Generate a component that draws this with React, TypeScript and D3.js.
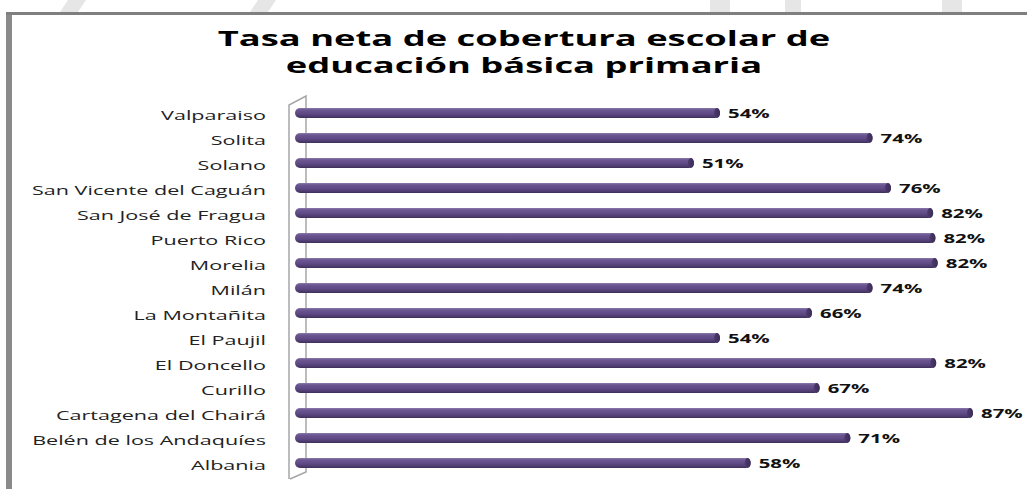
import React from "react";
import * as d3 from "d3";

const municipios = [
  "Valparaiso",
  "Solita",
  "Solano",
  "San Vicente del Caguán",
  "San José de Fragua",
  "Puerto Rico",
  "Morelia",
  "Milán",
  "La Montañita",
  "El Paujil",
  "El Doncello",
  "Curillo",
  "Cartagena del Chairá",
  "Belén de los Andaquíes",
  "Albania",
];

const cobertura = [54, 73.9, 50.6, 76.3, 81.8, 82.1, 82.4, 73.9, 66, 54, 82.2, 67, 87, 71, 58];

const titleLines = ["Tasa neta de cobertura escolar de", "educación básica primaria"];

const width = 1027;
const height = 489;

export default function App() {
  const x = d3.scaleLinear().domain([0, 100]).range([306, 1072.7]);
  const y = d3.scalePoint<string>().domain(municipios).range([113, 463]);
  const barH = 10;
  const depth = 11;
  const fmt = (v: number) => `${Math.round(v)}%`;

  const x0 = x(0);

  return (
    <svg
      width={width}
      height={height}
      viewBox={`0 0 ${width} ${height}`}
      style={{ position: "absolute", left: 0, top: 0, background: "#fff" }}
    >
      <defs>
        <linearGradient id="barGrad" x1="0" y1="0" x2="0" y2="1">
          <stop offset="0" stopColor="#8c7bab" />
          <stop offset="0.2" stopColor="#6b5691" />
          <stop offset="0.55" stopColor="#604a86" />
          <stop offset="0.85" stopColor="#4c3a6c" />
          <stop offset="1" stopColor="#3c2d58" />
        </linearGradient>
        <linearGradient id="capGrad" x1="0" y1="0" x2="1" y2="0">
          <stop offset="0" stopColor="#4c3a6c" />
          <stop offset="1" stopColor="#3b2c57" />
        </linearGradient>
      </defs>

      {/* faint watermark from the page behind */}
      <g fill="#e6e6e6">
        <polygon points="68,0 86,0 78,12 60,12" />
        <polygon points="258,0 276,0 268,12 250,12" />
        <rect x={710} y={0} width={20} height={12} />
        <rect x={785} y={0} width={16} height={12} />
        <rect x={942} y={0} width={20} height={12} />
      </g>

      {/* frame */}
      <rect x={6} y={12} width={6} height={height - 12} fill="#8a8a8a" />
      <rect x={6} y={12} width={width - 6} height={3} fill="#7f7f7f" />

      {/* title */}
      {titleLines.map((t, i) => (
        <text
          key={t}
          transform={`translate(524,${46 + i * 27}) scale(1.69,1)`}
          textAnchor="middle"
          fontFamily="'Open Sans', sans-serif"
          fontWeight={700}
          fontSize={21.5}
          fill="#000"
        >
          {t}
        </text>
      ))}

      {/* back wall */}
      <g fill="none" stroke="#a6a6a6" strokeWidth={1.5}>
        <path d={`M${x0 - 17},479 L${x0 - 17},105 L${x0},96 L${x0},472 L${x0 - 16},479`} />
      </g>

      {/* category labels */}
      {municipios.map((m) => (
        <text
          key={m}
          transform={`translate(266,${(y(m) ?? 0) + 7}) scale(1.66,1)`}
          textAnchor="end"
          fontFamily="'Open Sans', sans-serif"
          fontSize={13}
          fill="#222"
        >
          {m}
        </text>
      ))}

      {/* bars */}
      {municipios.map((m, i) => {
        const cy = y(m) ?? 0;
        const xe = x(cobertura[i]);
        return (
          <g key={m}>
            <rect
              x={x0 - depth}
              y={cy - barH / 2}
              width={xe - x0 + depth}
              height={barH}
              rx={barH / 2}
              fill="url(#barGrad)"
            />
            <ellipse cx={xe - 3} cy={cy} rx={3} ry={barH / 2} fill="url(#capGrad)" />
            <text
              transform={`translate(${xe + 8},${cy + 5}) scale(1.7,1)`}
              fontFamily="'Open Sans', sans-serif"
              fontWeight={700}
              fontSize={12}
              fill="#111"
            >
              {fmt(cobertura[i])}
            </text>
          </g>
        );
      })}
    </svg>
  );
}
